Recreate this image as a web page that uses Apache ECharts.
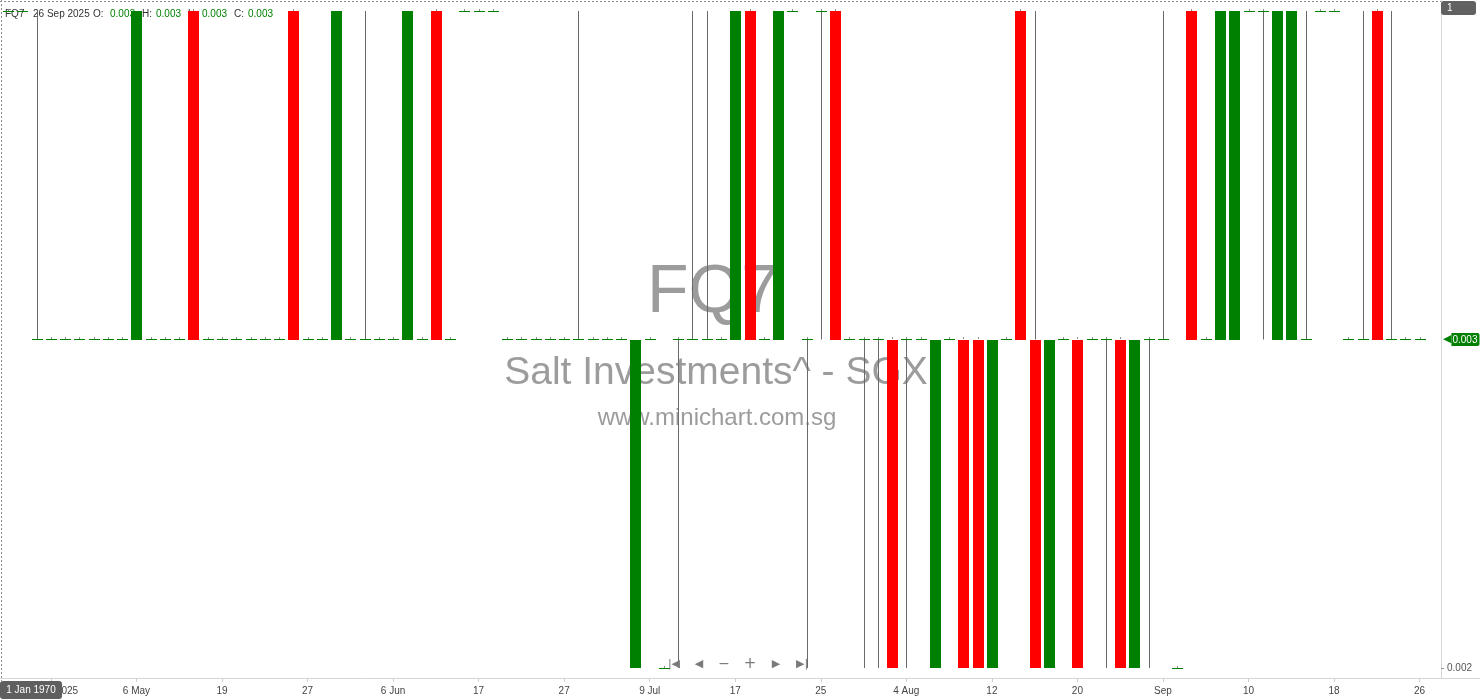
<!DOCTYPE html>
<html><head><meta charset="utf-8">
<script src="https://cdn.jsdelivr.net/npm/echarts@6/dist/echarts.min.js"></script>
<style>html,body{margin:0;padding:0;background:#fff}#c{width:1480px;height:699px}</style>
</head><body><div id="c"></div>
<script>
const dates = [
'2025-04-22','2025-04-23','2025-04-24','2025-04-25','2025-04-28','2025-04-29','2025-04-30','2025-05-02','2025-05-05','2025-05-06',
'2025-05-07','2025-05-08','2025-05-09','2025-05-14','2025-05-16','2025-05-19','2025-05-20','2025-05-21','2025-05-22','2025-05-23',
'2025-05-26','2025-05-27','2025-05-28','2025-05-29','2025-05-30','2025-06-02','2025-06-04','2025-06-06','2025-06-09','2025-06-10',
'2025-06-11','2025-06-12','2025-06-16','2025-06-17','2025-06-18','2025-06-19','2025-06-20','2025-06-23','2025-06-25','2025-06-27',
'2025-06-30','2025-07-01','2025-07-02','2025-07-03','2025-07-07','2025-07-09','2025-07-10','2025-07-11','2025-07-14','2025-07-15',
'2025-07-16','2025-07-17','2025-07-18','2025-07-21','2025-07-22','2025-07-23','2025-07-24','2025-07-25','2025-07-28','2025-07-29',
'2025-07-30','2025-07-31','2025-08-01','2025-08-04','2025-08-05','2025-08-06','2025-08-07','2025-08-08','2025-08-11','2025-08-12',
'2025-08-13','2025-08-14','2025-08-15','2025-08-18','2025-08-19','2025-08-20','2025-08-21','2025-08-22','2025-08-25','2025-08-27',
'2025-08-29','2025-09-01','2025-09-02','2025-09-03','2025-09-04','2025-09-05','2025-09-08','2025-09-10','2025-09-11','2025-09-12',
'2025-09-15','2025-09-16','2025-09-17','2025-09-18','2025-09-19','2025-09-22','2025-09-23','2025-09-24','2025-09-25','2025-09-26'
];
const tickLabels = {
'2025-04-25':'25 Apr 2025','2025-05-06':'6 May','2025-05-19':'19','2025-05-27':'27','2025-06-06':'6 Jun',
'2025-06-17':'17','2025-06-27':'27','2025-07-09':'9 Jul','2025-07-17':'17','2025-07-25':'25','2025-08-04':'4 Aug',
'2025-08-12':'12','2025-08-20':'20','2025-09-01':'Sep','2025-09-10':'10','2025-09-18':'18','2025-09-26':'26'
};
const opens = [
.004,.004,.003,.003,.003,.003,.003,.003,.003,.003,
.003,.003,.003,.004,.003,.003,.003,.003,.003,.003,
.004,.003,.003,.003,.003,.003,.003,.003,.003,.003,
.004,.003,.004,.004,.004,.003,.003,.003,.003,.003,
.003,.003,.003,.003,.002,.003,.002,.003,.003,.003,
.003,.003,.004,.003,.003,.004,.003,.004,.004,.003,
.003,.003,.003,.003,.003,.002,.003,.003,.003,.002,
.003,.004,.003,.002,.003,.003,.003,.003,.003,.002,
.003,.003,.002,.004,.003,.003,.003,.004,.004,.003,
.003,.003,.004,.004,.003,.003,.004,.003,.003,.003
];
const highs = [
.004,.004,.004,.003,.003,.003,.003,.003,.003,.004,
.003,.003,.003,.004,.003,.003,.003,.003,.003,.003,
.004,.003,.003,.004,.003,.004,.003,.003,.004,.003,
.004,.003,.004,.004,.004,.003,.003,.003,.003,.003,
.004,.003,.003,.003,.003,.003,.002,.003,.004,.004,
.003,.004,.004,.003,.004,.004,.003,.004,.004,.003,
.003,.003,.003,.003,.003,.003,.003,.003,.003,.003,
.003,.004,.004,.003,.003,.003,.003,.003,.003,.003,
.003,.004,.002,.004,.003,.004,.004,.004,.004,.004,
.004,.004,.004,.004,.003,.004,.004,.004,.003,.003
];
const lows = [
.004,.004,.003,.003,.003,.003,.003,.003,.003,.003,
.003,.003,.003,.003,.003,.003,.003,.003,.003,.003,
.003,.003,.003,.003,.003,.003,.003,.003,.003,.003,
.003,.003,.004,.004,.004,.003,.003,.003,.003,.003,
.003,.003,.003,.003,.002,.003,.002,.002,.003,.003,
.003,.003,.003,.003,.003,.004,.002,.003,.003,.003,
.002,.002,.002,.002,.003,.002,.003,.002,.002,.002,
.003,.003,.002,.002,.003,.002,.003,.002,.002,.002,
.002,.003,.002,.003,.003,.003,.003,.004,.003,.003,
.003,.003,.004,.004,.003,.003,.003,.003,.003,.003
];
const closes = [
.004,.004,.003,.003,.003,.003,.003,.003,.003,.004,
.003,.003,.003,.003,.003,.003,.003,.003,.003,.003,
.003,.003,.003,.004,.003,.003,.003,.003,.004,.003,
.003,.003,.004,.004,.004,.003,.003,.003,.003,.003,
.003,.003,.003,.003,.003,.003,.002,.003,.003,.003,
.003,.004,.003,.003,.004,.004,.003,.004,.003,.003,
.003,.003,.002,.003,.003,.003,.003,.002,.002,.003,
.003,.003,.002,.003,.003,.002,.003,.003,.002,.003,
.003,.003,.002,.003,.003,.004,.004,.004,.004,.004,
.004,.003,.004,.004,.003,.003,.003,.003,.003,.003
];
const yTickValues = [0.002];
const symbolCode = 'FQ7';
const companyName = 'Salt Investments^ - SGX';
const siteName = 'www.minichart.com.sg';
const headerDate = '26 Sep 2025';
const crossDateLabel = '1 Jan 1970';
const crossValueLabel = '1';

const UP = '#008000', DOWN = '#ff0000', WICK = '#6a6a6a';
const FONT = '"Liberation Sans", Arial, sans-serif';
const last = dates.length - 1;
const Y_MIN = 0.0019696, Y_MAX = 0.0040335;

const ohlcData = dates.map((d, i) => [i, opens[i], closes[i], lows[i], highs[i]]);

function renderCandle(params, api) {
  const i = api.value(0), o = api.value(1), c = api.value(2), l = api.value(3), h = api.value(4);
  const po = api.coord([i, o]), pc = api.coord([i, c]);
  const pl = api.coord([i, l]), ph = api.coord([i, h]);
  const xc = Math.round(po[0]);
  const wx = xc + 0.5;
  const children = [];
  const top = Math.min(po[1], pc[1]), bot = Math.max(po[1], pc[1]);
  if (ph[1] < top - 0.5) {
    children.push({ type: 'line', shape: { x1: wx, y1: ph[1], x2: wx, y2: top }, style: { stroke: WICK, lineWidth: 1 } });
  } else if (c <= o) {
    children.push({ type: 'line', shape: { x1: wx, y1: Math.floor(top) - 2, x2: wx, y2: Math.floor(top) }, style: { stroke: '#8c8c8c', lineWidth: 1 } });
  }
  if (pl[1] > bot + 0.5) children.push({ type: 'line', shape: { x1: wx, y1: bot, x2: wx, y2: pl[1] }, style: { stroke: WICK, lineWidth: 1 } });
  const color = c > o ? UP : (c < o ? DOWN : UP);
  if (o === c) {
    children.push({ type: 'rect', shape: { x: xc - 5, y: Math.floor(po[1]), width: 11, height: 1 }, style: { fill: color } });
  } else {
    children.push({ type: 'rect', shape: { x: xc - 5, y: Math.round(top), width: 11, height: Math.round(bot) - Math.round(top) }, style: { fill: color } });
  }
  return { type: 'group', children };
}

const chart = echarts.init(document.getElementById('c'), null, { renderer: 'canvas' });
const f3 = v => v.toFixed(3);
chart.setOption({
  animation: false,
  backgroundColor: '#ffffff',
  title: {
    z: 0, left: 5, top: 9, padding: 0,
    text: '{s|' + symbolCode + '}{d|' + headerDate + '}{k|O:}{v|' + f3(opens[last]) + '}{k2|H:}{v|' + f3(highs[last]) +
          '}{k2|L:}{v|' + f3(lows[last]) + '}{k2|C:}{v|' + f3(closes[last]) + '}',
    textStyle: {
      fontFamily: FONT, fontSize: 10, fontWeight: 'normal',
      rich: {
        s: { width: 28, color: '#333', fontSize: 10, fontFamily: FONT },
        d: { width: 60, color: '#333', fontSize: 10, fontFamily: FONT },
        k: { width: 17, color: '#333', fontSize: 10, fontFamily: FONT },
        k2: { width: 14, color: '#333', fontSize: 10, fontFamily: FONT },
        v: { width: 32, color: UP, fontSize: 10, fontFamily: FONT }
      }
    }
  },
  grid: { left: 1, right: 39, top: 0, bottom: 21, containLabel: false, outerBoundsMode: 'none' },
  xAxis: {
    type: 'category', data: dates, max: dates.length, boundaryGap: true,
    axisLine: { show: true, lineStyle: { color: '#d6d6d6' } },
    axisTick: { show: true, alignWithLabel: true, length: 4, interval: (i, v) => v in tickLabels, lineStyle: { color: '#cfcfcf' } },
    axisLabel: { interval: (i, v) => v in tickLabels, formatter: v => tickLabels[v] || '', color: '#444', fontSize: 10, fontFamily: FONT, margin: 8 },
    splitLine: { show: false }
  },
  yAxis: [
    {
      type: 'value', position: 'right', min: Y_MIN, max: Y_MAX,
      splitLine: { show: false },
      axisLine: { show: true, lineStyle: { color: '#d6d6d6' } },
      axisTick: { show: true, customValues: yTickValues, length: 3, lineStyle: { color: '#999' } },
      axisLabel: { customValues: yTickValues, formatter: v => f3(v), color: '#555', fontSize: 10, fontFamily: FONT, margin: 6 }
    },
    {
      type: 'value', position: 'right', min: Y_MIN, max: Y_MAX,
      splitLine: { show: false }, axisLine: { show: false }, axisTick: { show: false },
      axisLabel: {
        customValues: [closes[last]], formatter: v => '{t|◀}{v|' + f3(v) + '}', margin: 2,
        rich: {
          t: { color: UP, fontSize: 11, fontFamily: 'DejaVu Sans' },
          v: { color: '#fff', backgroundColor: UP, padding: [2, 2, 1, 1], borderRadius: [0, 2, 2, 0], fontSize: 10, fontFamily: FONT }
        }
      }
    }
  ],
  series: [
    {
      type: 'custom', name: symbolCode, data: ohlcData, z: 3, silent: true, clip: false,
      encode: { x: 0, y: [1, 2, 3, 4] },
      renderItem: renderCandle
    }
  ],
  graphic: [
    { type: 'text', z: 0, x: 713, y: 293, style: { text: symbolCode, fill: '#9c9c9c', fontSize: 68, fontFamily: FONT, align: 'center', verticalAlign: 'middle' } },
    { type: 'text', z: 0, x: 716, y: 373, style: { text: companyName, fill: '#9c9c9c', fontSize: 39, fontFamily: FONT, align: 'center', verticalAlign: 'middle' } },
    { type: 'text', z: 0, x: 717, y: 418, style: { text: siteName, fill: '#9c9c9c', fontSize: 24, fontFamily: FONT, align: 'center', verticalAlign: 'middle' } },
    { type: 'text', z: 50, x: 674, y: 664, style: { text: '|◀', fill: '#7a7a7a', fontSize: 11, fontFamily: 'DejaVu Sans', align: 'center', verticalAlign: 'middle' } },
    { type: 'text', z: 50, x: 699, y: 664, style: { text: '◀', fill: '#7a7a7a', fontSize: 11, fontFamily: 'DejaVu Sans', align: 'center', verticalAlign: 'middle' } },
    { type: 'text', z: 50, x: 724, y: 664, style: { text: '−', fill: '#7a7a7a', fontSize: 14, fontFamily: 'DejaVu Sans', align: 'center', verticalAlign: 'middle' } },
    { type: 'text', z: 50, x: 750, y: 664, style: { text: '+', fill: '#7a7a7a', fontSize: 15, fontFamily: 'DejaVu Sans', align: 'center', verticalAlign: 'middle' } },
    { type: 'text', z: 50, x: 776, y: 664, style: { text: '▶', fill: '#7a7a7a', fontSize: 11, fontFamily: 'DejaVu Sans', align: 'center', verticalAlign: 'middle' } },
    { type: 'text', z: 50, x: 802, y: 664, style: { text: '▶|', fill: '#7a7a7a', fontSize: 11, fontFamily: 'DejaVu Sans', align: 'center', verticalAlign: 'middle' } },
    { type: 'line', z: 100, shape: { x1: 0, y1: 1.5, x2: 1441, y2: 1.5 }, style: { stroke: '#8a8a8a', lineWidth: 1, lineDash: [2, 2] } },
    { type: 'line', z: 100, shape: { x1: 1.5, y1: 0, x2: 1.5, y2: 681 }, style: { stroke: '#8a8a8a', lineWidth: 1, lineDash: [2, 2] } },
    { type: 'line', z: 100, shape: { x1: 1441, y1: 678.5, x2: 1480, y2: 678.5 }, style: { stroke: '#d6d6d6', lineWidth: 1 } },
    { type: 'rect', z: 100, shape: { x: 0, y: 681, width: 62, height: 18, r: 3 }, style: { fill: '#5f5f5f' } },
    { type: 'text', z: 101, x: 31, y: 690, style: { text: crossDateLabel, fill: '#fff', fontSize: 10, fontFamily: FONT, align: 'center', verticalAlign: 'middle' } },
    { type: 'rect', z: 100, shape: { x: 1441, y: 1, width: 35, height: 14, r: 3 }, style: { fill: '#616161' } },
    { type: 'text', z: 101, x: 1447, y: 8, style: { text: crossValueLabel, fill: '#fff', fontSize: 10, fontFamily: FONT, align: 'left', verticalAlign: 'middle' } }
  ]
});
</script>
</body></html>
